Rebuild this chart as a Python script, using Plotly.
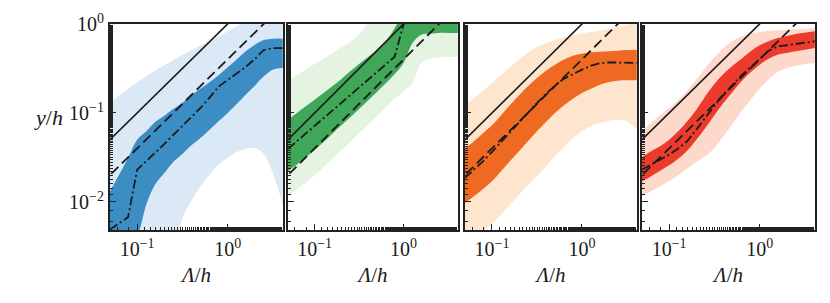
import plotly.graph_objects as go

# common x grid (Lambda/h)
X = [0.0501, 0.0631, 0.0794, 0.1, 0.126, 0.158, 0.2, 0.251, 0.316, 0.398,
     0.501, 0.631, 0.794, 1.0, 1.26, 1.58, 2.0, 2.51, 3.16, 4.07]

# values read as decades, log10(y/h)
P1_LIGHT_LO = [-2.6, -2.6, -2.6, -2.6, -2.6, -2.6, -2.6, -2.6, -2.18, -1.985, -1.824, -1.693, -1.58, -1.506, -1.438, -1.404, -1.393, -1.46, -1.674, -2.03]
P1_LIGHT_HI = [-0.888, -0.80, -0.727, -0.655, -0.588, -0.524, -0.464, -0.404, -0.348, -0.296, -0.243, -0.195, -0.142, -0.082, -0.026, 0.03, 0.03, 0.03, 0.03, 0.03]
P1_DARK_LO = [-2.5, -2.5, -2.45, -2.37, -2.03, -1.805, -1.674, -1.55, -1.46, -1.363, -1.281, -1.187, -1.094, -1.0, -0.899, -0.794, -0.693, -0.588, -0.513, -0.494]
P1_DARK_HI = [-1.88, -1.693, -1.506, -1.30, -1.206, -1.10, -1.03, -0.955, -0.884, -0.80, -0.727, -0.655, -0.577, -0.487, -0.40, -0.307, -0.232, -0.18, -0.165, -0.165]
P1_MEDIAN = [-2.31, -2.236, -2.17, -1.637, -1.543, -1.446, -1.348, -1.247, -1.146, -1.045, -0.944, -0.828, -0.704, -0.629, -0.558, -0.483, -0.393, -0.292, -0.27, -0.27]

P2_LIGHT_LO = [-1.936, -1.861, -1.787, -1.70, -1.607, -1.513, -1.42, -1.326, -1.225, -1.131, -1.037, -0.936, -0.843, -0.757, -0.663, -0.438, -0.39, -0.375, -0.371, -0.371]
P2_LIGHT_HI = [-0.644, -0.577, -0.513, -0.449, -0.39, -0.326, -0.262, -0.202, -0.12, 0.01, 0.1, 0.1, 0.1, 0.1, 0.1, 0.1, 0.1, 0.1, 0.1, 0.1]
P2_DARK_LO = [-1.655, -1.58, -1.498, -1.416, -1.326, -1.232, -1.139, -1.049, -0.955, -0.861, -0.764, -0.667, -0.562, -0.438, -0.213, -0.12, -0.109, -0.10, -0.10, -0.10]
P2_DARK_HI = [-1.075, -1.0, -0.925, -0.85, -0.775, -0.70, -0.618, -0.532, -0.449, -0.371, -0.288, -0.195, -0.045, 0.1, 0.1, 0.1, 0.1, 0.1, 0.1, 0.1]
P2_MEDIAN = [-1.404, -1.318, -1.232, -1.146, -1.06, -0.974, -0.888, -0.798, -0.712, -0.625, -0.539, -0.453, -0.367, 0.0, 0.06, 0.06, 0.06, 0.06, 0.06, 0.06]

P3_LIGHT_LO = [-2.6, -2.6, -2.35, -2.247, -2.142, -2.03, -1.918, -1.813, -1.708, -1.60, -1.487, -1.382, -1.281, -1.206, -1.15, -1.112, -1.086, -1.075, -1.094, -1.187]
P3_LIGHT_HI = [-0.914, -0.831, -0.749, -0.667, -0.577, -0.487, -0.40, -0.322, -0.262, -0.217, -0.18, -0.15, -0.127, -0.105, -0.09, -0.075, -0.056, -0.03, -0.007, 0.01]
P3_DARK_LO = [-2.011, -1.936, -1.854, -1.768, -1.655, -1.543, -1.431, -1.318, -1.206, -1.101, -1.0, -0.914, -0.839, -0.775, -0.727, -0.682, -0.652, -0.637, -0.633, -0.633]
P3_DARK_HI = [-1.40, -1.318, -1.228, -1.139, -1.026, -0.914, -0.80, -0.70, -0.607, -0.524, -0.457, -0.40, -0.356, -0.333, -0.318, -0.311, -0.307, -0.30, -0.292, -0.288]
P3_MEDIAN = [-1.73, -1.637, -1.543, -1.438, -1.326, -1.217, -1.105, -0.993, -0.888, -0.787, -0.693, -0.614, -0.562, -0.513, -0.468, -0.442, -0.431, -0.431, -0.434, -0.438]

P4_LIGHT_LO = [-1.936, -1.88, -1.824, -1.768, -1.70, -1.625, -1.551, -1.487, -1.393, -1.262, -1.124, -0.981, -0.85, -0.727, -0.625, -0.539, -0.494, -0.468, -0.449, -0.438]
P4_LIGHT_HI = [-1.199, -1.112, -1.026, -0.944, -0.85, -0.749, -0.625, -0.494, -0.375, -0.27, -0.195, -0.139, -0.109, -0.09, -0.079, -0.071, -0.064, -0.056, -0.052, -0.045]
P4_DARK_LO = [-1.768, -1.712, -1.648, -1.588, -1.513, -1.423, -1.30, -1.169, -1.026, -0.888, -0.764, -0.644, -0.543, -0.457, -0.39, -0.345, -0.326, -0.307, -0.288, -0.27]
P4_DARK_HI = [-1.498, -1.431, -1.375, -1.30, -1.206, -1.094, -0.963, -0.813, -0.674, -0.562, -0.468, -0.39, -0.307, -0.24, -0.195, -0.157, -0.135, -0.112, -0.097, -0.082]
P4_MEDIAN = [-1.637, -1.58, -1.524, -1.468, -1.40, -1.318, -1.187, -1.049, -0.918, -0.794, -0.682, -0.577, -0.487, -0.393, -0.30, -0.251, -0.24, -0.225, -0.21, -0.195]

# reference lines y = x and y = 0.4 x
REF_X = [0.03, 6.0]
REF_SOLID_Y = [0.03, 6.0]
REF_DASHED_Y = [0.012, 2.4]

PANELS = [
    (P1_LIGHT_LO, P1_LIGHT_HI, P1_DARK_LO, P1_DARK_HI, P1_MEDIAN, "#dbe9f6", "#3d8dc5"),
    (P2_LIGHT_LO, P2_LIGHT_HI, P2_DARK_LO, P2_DARK_HI, P2_MEDIAN, "#e5f4e0", "#3fa757"),
    (P3_LIGHT_LO, P3_LIGHT_HI, P3_DARK_LO, P3_DARK_HI, P3_MEDIAN, "#fee6ce", "#ee6a22"),
    (P4_LIGHT_LO, P4_LIGHT_HI, P4_DARK_LO, P4_DARK_HI, P4_MEDIAN, "#fdd9cb", "#ec3b2c"),
]

X_TICKVALS = [0.1, 1.0]
X_TICKTEXT = ["10<sup>−1</sup>", "10<sup>0</sup>"]
Y_TICKVALS = [0.01, 0.1, 1.0]
Y_TICKTEXT = ["10<sup>−2</sup>", "10<sup>−1</sup>", "10<sup>0</sup>"]

W, H = 830, 303
px_left = [110, 288, 465, 642]
px_right = [283, 458, 637, 815]
top_px, bot_px = 24, 230

FONT = "Liberation Serif"
INK = "#1a1a1a"

fig = go.Figure()

def pw(v):
    return [10 ** a for a in v]

for i, (llo, lhi, dlo, dhi, med, lc, dc) in enumerate(PANELS):
    xa = "x" if i == 0 else f"x{i+1}"
    ya = "y" if i == 0 else f"y{i+1}"
    fig.add_trace(go.Scatter(x=X, y=pw(llo), mode="lines", line=dict(width=0, color=lc, shape="spline"),
                             xaxis=xa, yaxis=ya, showlegend=False, hoverinfo="skip"))
    fig.add_trace(go.Scatter(x=X, y=pw(lhi), mode="lines", line=dict(width=0, color=lc, shape="spline"),
                             fill="tonexty", fillcolor=lc, xaxis=xa, yaxis=ya, showlegend=False, hoverinfo="skip"))
    fig.add_trace(go.Scatter(x=X, y=pw(dlo), mode="lines", line=dict(width=0, color=dc, shape="spline"),
                             xaxis=xa, yaxis=ya, showlegend=False, hoverinfo="skip"))
    fig.add_trace(go.Scatter(x=X, y=pw(dhi), mode="lines", line=dict(width=0, color=dc, shape="spline"),
                             fill="tonexty", fillcolor=dc, xaxis=xa, yaxis=ya, showlegend=False, hoverinfo="skip"))
    fig.add_trace(go.Scatter(x=REF_X, y=REF_SOLID_Y, mode="lines", line=dict(width=1.6, color=INK),
                             xaxis=xa, yaxis=ya, showlegend=False, hoverinfo="skip"))
    fig.add_trace(go.Scatter(x=REF_X, y=REF_DASHED_Y, mode="lines", line=dict(width=1.8, color=INK, dash="10px,5px"),
                             xaxis=xa, yaxis=ya, showlegend=False, hoverinfo="skip"))
    fig.add_trace(go.Scatter(x=X, y=pw(med), mode="lines", line=dict(width=1.8, color=INK, dash="9px,3px,2px,3px"),
                             xaxis=xa, yaxis=ya, showlegend=False, hoverinfo="skip"))

layout = dict(
    width=W, height=H, margin=dict(l=0, r=0, t=0, b=0, autoexpand=False),
    paper_bgcolor="white", plot_bgcolor="white",
    font=dict(family=FONT, size=20, color=INK),
)
for i in range(4):
    xk = "xaxis" if i == 0 else f"xaxis{i+1}"
    yk = "yaxis" if i == 0 else f"yaxis{i+1}"
    xa_anchor = "y" if i == 0 else f"y{i+1}"
    ya_anchor = "x" if i == 0 else f"x{i+1}"
    layout[xk] = dict(
        type="log", range=[-1.3, 0.612],
        domain=[px_left[i] / W, px_right[i] / W], anchor=xa_anchor,
        showline=True, linewidth=2, linecolor="#222", mirror=True,
        ticks="inside", ticklen=6, tickwidth=1, tickcolor="#222",
        tickvals=X_TICKVALS, ticktext=X_TICKTEXT, showgrid=False, zeroline=False,
        tickfont=dict(size=20, family=FONT),
        minor=dict(ticks="inside", ticklen=3, tickwidth=1, tickcolor="#222", showgrid=False),
        title=dict(text="<i>Λ</i>/<i>h</i>", font=dict(size=21, family=FONT), standoff=8),
        automargin=False,
    )
    layout[yk] = dict(
        type="log", range=[-2.315, 0.0],
        domain=[1 - bot_px / H, 1 - top_px / H], anchor=ya_anchor,
        showline=True, linewidth=2, linecolor="#222", mirror=True,
        ticks="inside", ticklen=6, tickwidth=1, tickcolor="#222",
        tickvals=Y_TICKVALS, ticktext=Y_TICKTEXT, showticklabels=(i == 0),
        showgrid=False, zeroline=False,
        tickfont=dict(size=20, family=FONT),
        minor=dict(ticks="inside", ticklen=3, tickwidth=1, tickcolor="#222", showgrid=False),
        automargin=False,
    )

fig.update_layout(**layout)
fig.add_annotation(text="<i>y</i>/<i>h</i>", xref="paper", yref="paper",
                   x=32 / W, y=1 - 117 / H, showarrow=False,
                   font=dict(size=22, family=FONT, color=INK))

fig.write_html("out.html", config={"displayModeBar": False},
               post_script="document.body.style.margin='0px';")
